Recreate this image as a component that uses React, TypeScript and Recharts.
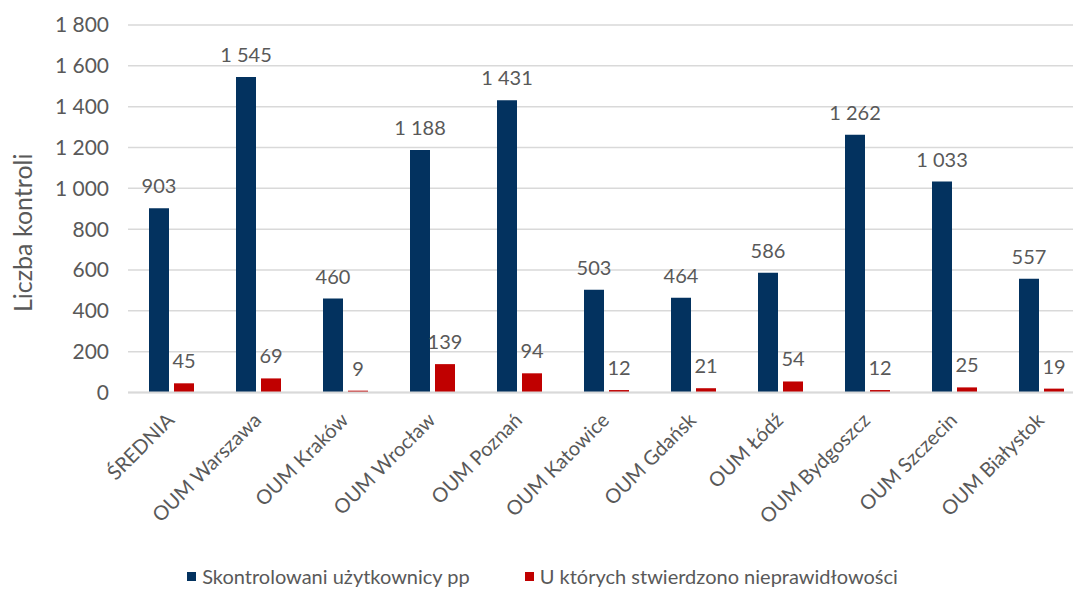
import React from 'react';
import { BarChart, Bar, XAxis, YAxis, CartesianGrid, Legend, LabelList, Label } from 'recharts';

const categories = [
  'ŚREDNIA',
  'OUM Warszawa',
  'OUM Kraków',
  'OUM Wrocław',
  'OUM Poznań',
  'OUM Katowice',
  'OUM Gdańsk',
  'OUM Łódź',
  'OUM Bydgoszcz',
  'OUM Szczecin',
  'OUM Białystok',
];
const controlled = [903, 1545, 460, 1188, 1431, 503, 464, 586, 1262, 1033, 557];
const irregular = [45, 69, 9, 139, 94, 12, 21, 54, 12, 25, 19];
const yTicks = [0, 200, 400, 600, 800, 1000, 1200, 1400, 1600, 1800];
const seriesNames = ['Skontrolowani użytkownicy pp', 'U których stwierdzono nieprawidłowości'];
const seriesColors = ['#03325F', '#C00000'];

const data = categories.map((name, i) => ({ name, a: controlled[i], b: irregular[i] }));

const FONT = 'Lato, "Open Sans", sans-serif';
const TEXT = '#595959';
const FS = 20;

const fmt = (v: any) => String(v).replace(/\B(?=(\d{3})+(?!\d))/g, ' ');
const fmtNb = (v: any) => String(v).replace(/\B(?=(\d{3})+(?!\d))/g, '\u00a0');

const CatTick = (props: any) => {
  const { x, y, payload } = props;
  return (
    <g transform={`translate(${x + 4},${y + 29})`}>
      <text textAnchor="end" transform="rotate(-45)" fill={TEXT} fontSize={FS} fontFamily={FONT}>
        {payload.value}
      </text>
    </g>
  );
};

const LegendContent = () => (
  <div
    style={{
      display: 'flex',
      justifyContent: 'center',
      alignItems: 'center',
      fontFamily: FONT,
      fontSize: FS,
      color: TEXT,
      width: 1073,
      paddingLeft: 12,
      boxSizing: 'border-box',
    }}
  >
    {seriesNames.map((n, i) => (
      <div key={n} style={{ display: 'flex', alignItems: 'center', marginLeft: i === 0 ? 0 : 55 }}>
        <span style={{ display: 'inline-block', width: 9, height: 9, background: seriesColors[i], marginRight: 6 }} />
        <span>{n}</span>
      </div>
    ))}
  </div>
);

export default function App() {
  return (
    <div style={{ position: 'absolute', left: 0, top: 0, width: 1073, height: 589, overflow: 'hidden', background: '#fff' }}>
      <BarChart
        width={1090}
        height={589}
        data={data}
        margin={{ top: 25, right: 5, left: 0, bottom: 0 }}
        barSize={20}
        barGap={5}
      >
        <CartesianGrid vertical={false} stroke="#d9d9d9" strokeWidth={1.5} />
        <XAxis
          dataKey="name"
          interval={0}
          height={156.5}
          tickSize={0}
          tickMargin={0}
          tickLine={false}
          axisLine={{ stroke: '#d9d9d9', strokeWidth: 2 }}
          tick={<CatTick />}
        />
        <YAxis
          width={128}
          domain={[0, 1800]}
          ticks={yTicks}
          tickFormatter={fmt}
          tickSize={0}
          tickMargin={19}
          axisLine={false}
          tickLine={false}
          tick={{ fill: TEXT, fontSize: 21, fontFamily: FONT }}
        >
          <Label
            value="Liczba kontroli"
            angle={-90}
            position="insideLeft"
            dx={18}
            dy={24}
            style={{ textAnchor: 'middle', fill: TEXT, fontSize: 25, fontFamily: FONT }}
          />
        </YAxis>
        <Legend verticalAlign="bottom" height={40} content={<LegendContent />} wrapperStyle={{ left: 0, top: 564, width: 1073 }} />
        <Bar dataKey="a" name={seriesNames[0]} fill={seriesColors[0]} isAnimationActive={false}>
          <LabelList dataKey="a" position="top" offset={15} formatter={fmtNb} fill={TEXT} fontSize={FS} fontFamily={FONT} />
        </Bar>
        <Bar dataKey="b" name={seriesNames[1]} fill={seriesColors[1]} isAnimationActive={false}>
          <LabelList dataKey="b" position="top" offset={15} formatter={fmtNb} fill={TEXT} fontSize={FS} fontFamily={FONT} />
        </Bar>
      </BarChart>
    </div>
  );
}
